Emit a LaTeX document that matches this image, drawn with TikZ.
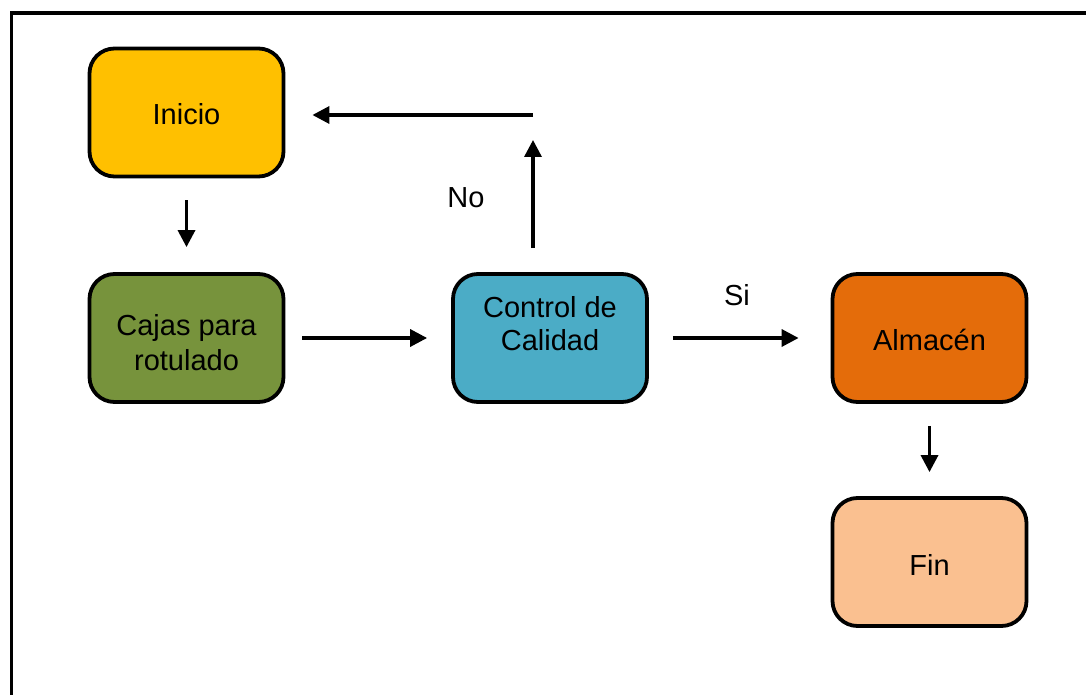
\documentclass[tikz,border=0pt]{standalone}
\usepackage{fontspec}
\setmainfont{Liberation Sans}
\usetikzlibrary{arrows.meta}
\definecolor{cIni}{HTML}{FFC000}
\definecolor{cCaj}{HTML}{77933C}
\definecolor{cCtl}{HTML}{4BACC6}
\definecolor{cAlm}{HTML}{E46C0A}
\definecolor{cFin}{HTML}{FAC090}
% #1 = raise of last baseline, #2 = line skip, #3 = text
\newcommand{\boxtext}[3]{\smash{\raisebox{#1}{\fontsize{29}{#2}\selectfont\begin{tabular}[b]{@{}c@{}}#3\end{tabular}}}}
\tikzset{
  box/.style={draw=black, line width=3.8pt, rounded corners=25pt, minimum width=194pt, minimum height=128pt, inner sep=0pt, align=center, font=\fontsize{29}{34}\selectfont},
  arr/.style={line width=3.4pt, -{Triangle[length=17pt,width=17pt]}},
  lbl/.style={font=\fontsize{29}{34}\selectfont, inner sep=0pt}
}
\begin{document}
\begin{tikzpicture}[x=1pt,y=-1pt]
\useasboundingbox (0,0) rectangle (1086,695);
\draw[line width=3.6pt] (11.5,13) rectangle (1110,720);
\node[box, fill=cIni] (ini) at (186.5,112.5) {\boxtext{-12.5pt}{34pt}{Inicio}};
\node[box, fill=cCaj] (caj) at (186.5,338) {\boxtext{-32pt}{35pt}{Cajas para\\rotulado}};
\node[box, fill=cCtl] (ctl) at (550,338) {\boxtext{-12pt}{33pt}{Control de\\Calidad}};
\node[box, fill=cAlm] (alm) at (929.5,338) {\boxtext{-12pt}{34pt}{Almacén}};
\node[box, fill=cFin] (fin) at (929.5,562) {\boxtext{-13pt}{34pt}{Fin}};
\coordinate (corner) at (533,115);
\draw[arr, shorten <=22pt, shorten >=25pt] (ini.south) -- (caj.north);
\draw[arr, shorten <=17pt, shorten >=24pt] (caj.east) -- (ctl.west);
\draw[arr, shorten <=24pt, shorten >=32pt] (ctl.east) -- (alm.west);
\draw[arr, shorten <=22pt, shorten >=24pt] (alm.south) -- (fin.north);
\draw[arr, shorten <=24pt, shorten >=25pt] (ctl.north -| corner) -- (corner);
\draw[arr, shorten >=27pt] (corner) -- (corner -| ini.east);
\node[lbl] (no) at (466,198) {No};
\node[lbl] (si) at (737,295) {Si};
\end{tikzpicture}
\end{document}
